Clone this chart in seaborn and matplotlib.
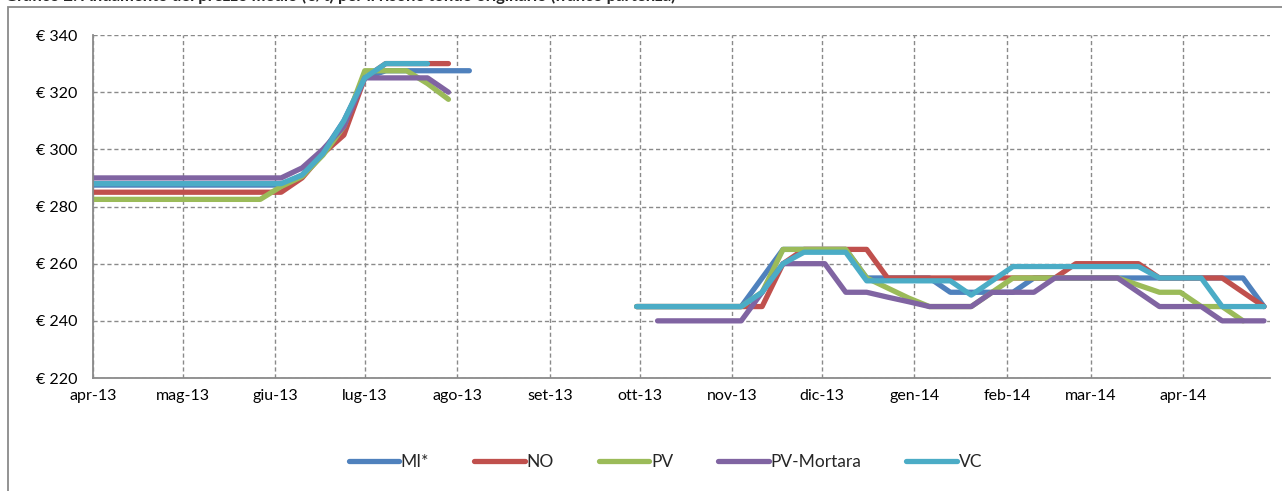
import numpy as np
import pandas as pd
import matplotlib
matplotlib.use('Agg')
import matplotlib.pyplot as plt
from matplotlib.patches import Rectangle
import seaborn as sns

# weekly quotations, two campaigns
dates_s1 = pd.date_range('2013-04-01', '2013-08-05', freq='7D')
dates_s2 = pd.date_range('2013-09-30', '2014-04-28', freq='7D')

nan = np.nan
mi_s1 = [287.5] * 10 + [291, 299, 310, 325, 327.5, 327.5, 327.5, 327.5, 327.5]
no_s1 = [285] * 10 + [290, 298.5, 305, 325, 330, 330, 330, 330, nan]
pv_s1 = [282.5] * 9 + [287, 290.5, 298, 308, 327.5, 327.5, 327.5, 323, 317.5, nan]
pvm_s1 = [290] * 10 + [293.5, 300, 308, 325, 325, 325, 325, 320, nan]
vc_s1 = [288] * 10 + [291, 298.5, 310, 325, 330, 330, 330, nan, nan]

mi_s2 = [245] * 6 + [255, 265, 265, 265, 265, 255, 255, 255, 255, 250, 250, 250, 250,
                     255, 255, 255, 255, 255, 255, 255, 255, 255, 255, 255, 245]
no_s2 = [245] * 7 + [260, 265, 265, 265, 265, 255, 255, 255, 255, 255, 255, 255, 255,
                     255, 260, 260, 260, 260, 255, 255, 255, 255, 250, 245]
pv_s2 = [245] * 6 + [250, 265, 265, 265, 265, 255, 251.5, 248, 245, 245, 245, 250, 255,
                     255, 255, 255, 255, 255, 252.5, 250, 250, 245, 245, 240, nan]
pvm_s2 = [nan] + [240] * 5 + [250, 260, 260, 260, 250, 250, 248.3, 246.7, 245, 245, 245,
                              250, 250, 250, 255, 255, 255, 255, 250, 245, 245, 245, 240, 240, 240]
vc_s2 = [245] * 6 + [250, 260, 264, 264, 264, 254, 254, 254, 254, 254, 249, 254, 259,
                     259, 259, 259, 259, 259, 259, 255, 255, 255, 245, 245, 245]

series = ['MI*', 'NO', 'PV', 'PV-Mortara', 'VC']
colors = ['#4F81BD', '#C0504D', '#9BBB59', '#8064A2', '#4BACC6']
s1_values = [mi_s1, no_s1, pv_s1, pvm_s1, vc_s1]
s2_values = [mi_s2, no_s2, pv_s2, pvm_s2, vc_s2]

month_ticks = ['2013-04-01', '2013-05-01', '2013-06-01', '2013-07-01', '2013-08-01',
               '2013-09-01', '2013-10-01', '2013-11-01', '2013-12-01', '2014-01-01',
               '2014-02-01', '2014-03-01', '2014-04-01']
month_labels = ['apr-13', 'mag-13', 'giu-13', 'lug-13', 'ago-13', 'set-13', 'ott-13',
                'nov-13', 'dic-13', 'gen-14', 'feb-14', 'mar-14', 'apr-14']
y_ticks = [220, 240, 260, 280, 300, 320, 340]

rows = []
for name, v1, v2 in zip(series, s1_values, s2_values):
    for d, v in zip(dates_s1, v1):
        rows.append((d, v, name, 's1'))
    for d, v in zip(dates_s2, v2):
        rows.append((d, v, name, 's2'))
df = pd.DataFrame(rows, columns=['data', 'prezzo', 'serie', 'campagna']).dropna()

sns.set_theme(style='white')
plt.rcParams['font.family'] = ['Lato', 'DejaVu Sans']

fig = plt.figure(figsize=(12.82, 4.91), dpi=100)
ax = fig.add_axes([0.0725, 0.2301, 0.9181, 0.6986])

sns.lineplot(data=df, x='data', y='prezzo', hue='serie', units='campagna', estimator=None,
             hue_order=series, palette=colors, linewidth=3.8, ax=ax,
             solid_capstyle='round', solid_joinstyle='round')

ax.set_xlim(pd.Timestamp('2013-04-01'), pd.Timestamp('2014-04-30'))
ax.set_ylim(220, 340)
ax.set_xticks([pd.Timestamp(t) for t in month_ticks])
ax.set_xticklabels(month_labels)
ax.set_yticks(y_ticks)
ax.set_yticklabels(['€ %d' % v for v in y_ticks])
ax.set_xlabel('')
ax.set_ylabel('')

grid_col = '#8a8a8a'
ax.grid(True, color=grid_col, linestyle=(0, (3, 2)), linewidth=1.0)
ax.set_axisbelow(True)
for s in ['top', 'right']:
    ax.spines[s].set_visible(False)
for s in ['left', 'bottom']:
    ax.spines[s].set_color(grid_col)
    ax.spines[s].set_linewidth(1.3)
ax.tick_params(axis='both', direction='out', length=5, width=1, color=grid_col,
               labelsize=11.5, labelcolor='black')
ax.tick_params(axis='x', pad=3)
ax.tick_params(axis='y', pad=6)

handles, labels = ax.get_legend_handles_labels()
ax.legend(handles, labels, loc='center', bbox_to_anchor=(0.519, 0.059),
          bbox_transform=fig.transFigure, ncol=5, frameon=False, fontsize=12.5,
          handlelength=2.9, handletextpad=0.1, columnspacing=2.6)

# outer chart frame (partly outside the picture)
fig.patches.append(Rectangle((8 / 1282, -0.1), 1.2, 1.1 - 7 / 491, transform=fig.transFigure,
                             fill=False, edgecolor='#8a8a8a', linewidth=1.3))
fig.text(0.004, 1 - 1.0 / 491,
         'Grafico 2: Andamento del prezzo medio (€/t) per il risone tondo originario (franco partenza)',
         fontsize=12, fontweight='bold', ha='left', va='baseline')

fig.savefig('out.png', dpi=100)
